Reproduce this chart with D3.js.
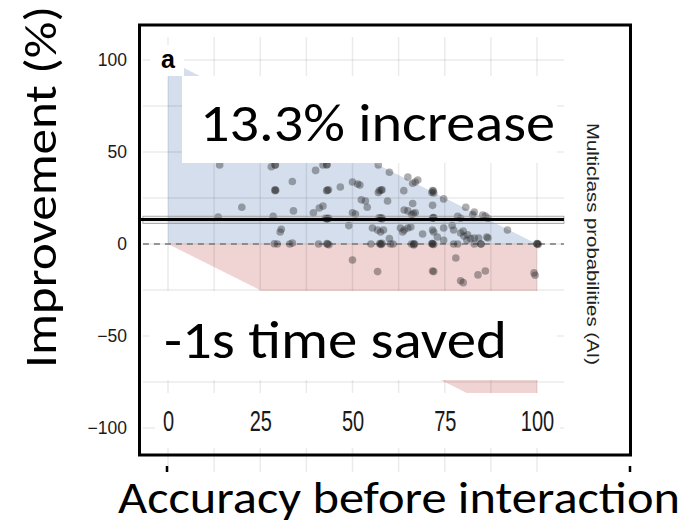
<!DOCTYPE html>
<html>
<head>
<meta charset="utf-8">
<title>Improvement vs accuracy</title>
<script src="https://d3js.org/d3.v7.min.js"></script>
<style>
  body { margin: 0; background: #fff; }
  svg { display: block; }
  .big { font-family: Carlito, Calibri, Lato, sans-serif; fill: #000; }
  .tick text { font-family: "Liberation Sans", Arial, Helvetica, sans-serif; fill: #1a1a1a; }
</style>
</head>
<body>
<svg width="688" height="526"></svg>
<script>
// data
const accuracyBefore = [14,29,28,29,29,20,13.6,28.5,30.7,29.6,33,30.4,
  43,42,40,33.7,50,51.4,52,46.7,43,43.5,57.3,57,58,63.9,53.5,52.4,59.5,41,42,34,54,50,50.8,64,65,
  43,43.5,57.6,58,57.2,49,55.4,60,63,64,33.7,40.8,43.2,43.6,55,57.6,58,57.8,66,50,56.8,
  57,60,65,67,67.7,71.5,72,80.7,83,85.3,86,39.4,42.7,56.8,57.6,58.4,63.6,65,65.8,73,74.7,
  79.3,81,83,84.2,86.7,60.3,61,77.4,78.5,83,84.8,66.6,71.7,
  66.3,71.7,74.7,71.7,66.3,67,66,66.5,71.7,72,78.5,79.3,82.6,86.7,74.7,77,77.4,71.7,72,69,
  80,80.2,81.2,82,86.4,92,66.6,71.7,72,84.8,100,100,100.3,78,71.7,72,86,84,79.3,80,99.2,99.5,
  29.2,43.2,57.8,71.9,43.1,57.4,71.5,66.8,100.2,71.9,57.9,43.3,29.1,43.1,28.8];
const improvement = [43,43,42,29,29.5,20,14.7,15,8,0,0,6.5,
  43,43,40,34,33.7,32.6,32,31,29,29.5,29,28,29.5,29,23.4,24,23.4,19.6,20.6,18,20,17,16.3,18.5,18,
  13.6,14,14,13.6,14.3,10,8.7,3,8.7,7.6,0.5,0,0,-0.4,0,0,0.4,-0.3,0,-8.7,-15,
  43,39,36.4,33.7,34.8,28,27.7,20,17.4,15.8,15.2,17,14,7.6,6.5,7.6,6.5,8.7,9.2,3.8,2,
  6,2,3.3,3.3,3.3,0,0,0,0,0,0,0,0,
  33,29,24.5,21,22,17,16,16.5,14,14.4,15,14,16,14,8.7,10,7.6,7.6,6.5,5.4,
  7,4.3,5,3,3.8,7.6,-0.5,0.3,-0.3,0,0,0.3,-0.3,-7.6,-14.7,-15,-14.7,-16.8,-20,-21,-15.7,-17,
  29.2,29.2,29.3,28.8,0.2,0.2,0.2,0.1,0.1,14.2,14.2,13.8,43,43.2,0.1];

const meanImprovement = 13.3;
const meanCI = [11.2, 15.1];
const gainRegion = [[0, 0], [0, 100], [100, 0]];
const lossRegion = [[0, 0], [100, -100], [100, 0]];
const xTicks = [0, 25, 50, 75, 100];
const yTicks = [-100, -50, 0, 50, 100];
const xGrid = [0, 12.5, 25, 37.5, 50, 62.5, 75, 87.5, 100];
const yGrid = [-100, -75, -50, -25, 0, 25, 50, 75, 100];

const svg = d3.select("svg");

const x = d3.scaleLinear().domain([0, 100]).range([168, 537]);
const y = d3.scaleLinear().domain([0, 100]).range([244, 60]);
const xMin = -6.8, xMax = 107.3, yMin = -124, yMax = 112.5;

svg.append("defs").append("filter").attr("id", "soft")
  .append("feGaussianBlur").attr("stdDeviation", 0.5);

const plot = svg.append("g");

// shaded regions
const area = d3.line().x(d => x(d[0])).y(d => y(d[1]));
plot.append("path").attr("d", area(gainRegion) + "Z").attr("fill", "#d4deed");
plot.append("path").attr("d", area(lossRegion) + "Z").attr("fill", "#f0d3d3");

// grid
plot.selectAll(".vg").data(xGrid).join("line")
  .attr("x1", d => x(d)).attr("x2", d => x(d))
  .attr("y1", y(yMax)).attr("y2", y(yMin))
  .attr("stroke", "#000").attr("stroke-opacity", 0.08).attr("stroke-width", 1.5);
plot.selectAll(".hg").data(yGrid).join("line")
  .attr("x1", x(xMin)).attr("x2", x(xMax))
  .attr("y1", d => y(d)).attr("y2", d => y(d))
  .attr("stroke", "#000").attr("stroke-opacity", 0.08).attr("stroke-width", 1.5);

// zero line
plot.append("line")
  .attr("x1", x(xMin)).attr("x2", x(xMax)).attr("y1", y(0)).attr("y2", y(0))
  .attr("stroke", "#777").attr("stroke-width", 1.6).attr("stroke-dasharray", "6,5");

// points
plot.append("g").attr("filter", "url(#soft)")
  .selectAll("circle").data(accuracyBefore).join("circle")
  .attr("cx", d => x(d))
  .attr("cy", (d, i) => y(improvement[i]))
  .attr("r", 3.8)
  .attr("fill", "#222").attr("fill-opacity", 0.36);

// mean + ci
plot.append("rect")
  .attr("x", x(xMin)).attr("width", x(xMax) - x(xMin))
  .attr("y", y(meanCI[1])).attr("height", y(meanCI[0]) - y(meanCI[1]))
  .attr("fill", "#000").attr("fill-opacity", 0.06)
  .attr("stroke", "#999").attr("stroke-width", 0.8);
plot.append("line")
  .attr("x1", 141).attr("x2", x(xMax))
  .attr("y1", y(meanImprovement)).attr("y2", y(meanImprovement))
  .attr("stroke", "#000").attr("stroke-width", 3);

// white cover boxes
const boxes = [[150, 45, 34, 31], [182, 76, 375, 87], [149, 291, 408, 89], [155, 393, 405, 55]];
svg.selectAll(".box").data(boxes).join("rect")
  .attr("x", d => d[0]).attr("y", d => d[1]).attr("width", d => d[2]).attr("height", d => d[3])
  .attr("fill", "#fff");

svg.append("text").attr("x", 161).attr("y", 68)
  .attr("font-family", "'Liberation Sans', Arial, sans-serif")
  .attr("font-weight", "bold").attr("font-size", 25).text("a");

// y axis labels
const yAxis = svg.append("g").attr("transform", "translate(141,0)")
  .call(d3.axisLeft(y).tickValues(yTicks).tickSize(0).tickPadding(14));
yAxis.select(".domain").remove();
yAxis.selectAll("text").attr("font-size", 17.5);

// x axis labels
const xAxis = svg.append("g")
  .call(d3.axisBottom(x).tickValues(xTicks).tickSize(0));
xAxis.select(".domain").remove();
xAxis.selectAll("text")
  .attr("y", 0).attr("dy", 0)
  .attr("font-size", 20)
  .attr("transform", "translate(0,431) scale(1,1.45)");

// frame
svg.append("rect").attr("x", 139.5).attr("y", 25).attr("width", 491).attr("height", 430)
  .attr("fill", "none").attr("stroke", "#000").attr("stroke-width", 3);
svg.selectAll(".mk").data([167, 630]).join("line")
  .attr("x1", d => d).attr("x2", d => d).attr("y1", 466).attr("y2", 472)
  .attr("stroke", "#000").attr("stroke-width", 2.5);

// side label
svg.append("text")
  .attr("transform", "translate(587,244) rotate(90)")
  .attr("text-anchor", "middle")
  .attr("font-family", "'Liberation Sans', Arial, sans-serif")
  .attr("font-size", 16).attr("fill", "#222")
  .attr("textLength", 242).attr("lengthAdjust", "spacingAndGlyphs")
  .text("Multiclass probabilities (AI)");

// overlay texts
svg.append("text").attr("class", "big").attr("x", 200).attr("y", 141)
  .attr("font-size", 53).attr("textLength", 355).attr("lengthAdjust", "spacingAndGlyphs")
  .text("13.3% increase");
svg.append("text").attr("class", "big").attr("x", 164).attr("y", 358)
  .attr("font-size", 53).attr("textLength", 343).attr("lengthAdjust", "spacingAndGlyphs")
  .text("-1s time saved");
svg.append("text").attr("class", "big")
  .attr("transform", "translate(56,187) rotate(-90)")
  .attr("text-anchor", "middle")
  .attr("font-size", 46).attr("textLength", 362).attr("lengthAdjust", "spacingAndGlyphs")
  .text("Improvement (%)");
svg.append("text").attr("class", "big").attr("x", 118).attr("y", 513)
  .attr("font-size", 45).attr("textLength", 562).attr("lengthAdjust", "spacingAndGlyphs")
  .text("Accuracy before interaction");
</script>
</body>
</html>
